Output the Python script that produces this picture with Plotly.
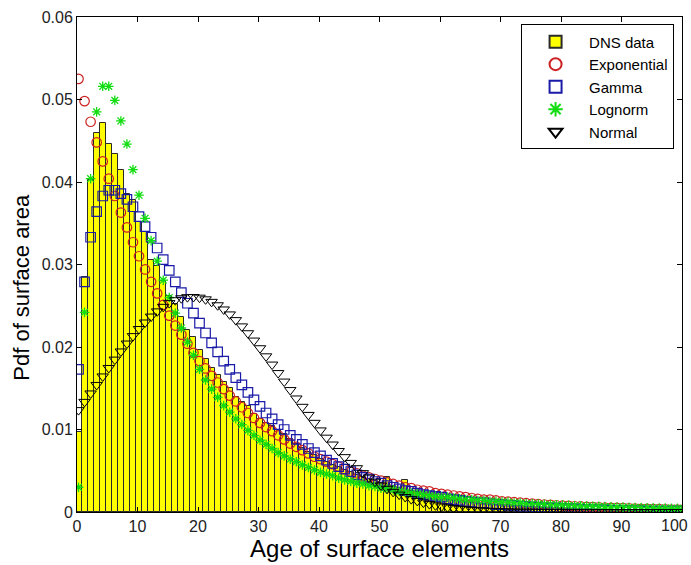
import plotly.graph_objects as go

# Bin centres (age of surface elements)
ages = [k + 0.25 for k in range(101)]

dns_data = [
    0.0097, 0.0285, 0.0402, 0.0460, 0.0471, 0.0446, 0.0434, 0.0415, 0.0386, 0.0378,
    0.0352, 0.0340, 0.0306, 0.0298, 0.0280, 0.0262, 0.0252, 0.0236, 0.0221, 0.0212,
    0.0196, 0.0186, 0.0175, 0.0166, 0.0158, 0.0150, 0.0140, 0.0133, 0.0128, 0.0119,
    0.0113, 0.0108, 0.0104, 0.0100, 0.0095, 0.0089, 0.0083, 0.0078, 0.0073, 0.0069,
    0.0064, 0.0061, 0.0057, 0.0054, 0.0051, 0.0048, 0.0045, 0.0042, 0.0040, 0.0037,
    0.0035, 0.0043, 0.0031, 0.0029, 0.0039, 0.0026, 0.0024, 0.0022, 0.0021, 0.0019,
    0.0018, 0.0016, 0.0015, 0.0014, 0.0013, 0.0012, 0.0011, 0.0010, 0.0010, 0.0009,
    0.0008, 0.0008, 0.0007, 0.0007, 0.0006, 0.0006, 0.00055, 0.0005, 0.0005, 0.00045,
    0.0004, 0.0004, 0.00038, 0.00035, 0.00033, 0.0003, 0.0003, 0.00028, 0.00026, 0.00025,
    0.00024, 0.00022, 0.0002, 0.0002, 0.00019, 0.00018, 0.00017, 0.00016, 0.00015, 0.00015,
    0.00014,
]

exponential = [
    0.0525, 0.0498, 0.0473, 0.0448, 0.0425, 0.0404, 0.0383, 0.0363, 0.0345, 0.0327,
    0.0310, 0.0294, 0.0279, 0.0265, 0.0251, 0.0238, 0.0226, 0.0215, 0.0204, 0.0193,
    0.0183, 0.0174, 0.0165, 0.0157, 0.0149, 0.0141, 0.0134, 0.0127, 0.0120, 0.0114,
    0.0108, 0.0103, 0.0098, 0.0093, 0.0088, 0.0083, 0.0079, 0.0075, 0.0071, 0.0067,
    0.0064, 0.0061, 0.0058, 0.0055, 0.0052, 0.0049, 0.0047, 0.0044, 0.0042, 0.0040,
    0.0038, 0.0036, 0.0034, 0.0032, 0.0030, 0.0029, 0.0027, 0.0026, 0.0025, 0.0023,
    0.0022, 0.0021, 0.0020, 0.0019, 0.0018, 0.0017, 0.0016, 0.0015, 0.0015, 0.0014,
    0.0013, 0.00125, 0.00119, 0.00113, 0.00107, 0.00101, 0.00096, 0.00091, 0.00087, 0.00082,
    0.00078, 0.00074, 0.00070, 0.00067, 0.00063, 0.00060, 0.00057, 0.00054, 0.00051, 0.00049,
    0.00046, 0.00044, 0.00041, 0.00039, 0.00037, 0.00035, 0.00034, 0.00032, 0.00030, 0.00029,
    0.00027,
]

gamma = [
    0.0173, 0.0279, 0.0333, 0.0364, 0.0383, 0.0390, 0.0390, 0.0386, 0.0379, 0.0370,
    0.0358, 0.0346, 0.0333, 0.0320, 0.0306, 0.0293, 0.0279, 0.0266, 0.0253, 0.0241,
    0.0229, 0.0217, 0.0205, 0.0194, 0.0183, 0.0173, 0.0163, 0.0154, 0.0145, 0.0136,
    0.0128, 0.0120, 0.0113, 0.0106, 0.0100, 0.0093, 0.0088, 0.0082, 0.0077, 0.0072,
    0.0068, 0.0063, 0.0059, 0.0055, 0.0052, 0.0049, 0.0045, 0.0042, 0.0040, 0.0037,
    0.0035, 0.0032, 0.0030, 0.0028, 0.0026, 0.0025, 0.0023, 0.0021, 0.0020, 0.0019,
    0.0018, 0.0016, 0.0015, 0.0014, 0.0013, 0.0012, 0.0011, 0.0011, 0.0010, 0.0009,
    0.0009, 0.0008, 0.0008, 0.0007, 0.0007, 0.0006, 0.0006, 0.0005, 0.0005, 0.0005,
    0.0004, 0.0004, 0.0004, 0.0003, 0.0003, 0.0003, 0.0003, 0.0003, 0.0002, 0.0002,
    0.0002, 0.0002, 0.0002, 0.0002, 0.0001, 0.0001, 0.0001, 0.0001, 0.0001, 0.0001,
    0.0001,
]

lognorm = [
    0.0030, 0.0242, 0.0404, 0.0485, 0.0516, 0.0516, 0.0499, 0.0474, 0.0446, 0.0415,
    0.0384, 0.0356, 0.0329, 0.0304, 0.0281, 0.0260, 0.0241, 0.0223, 0.0206, 0.0190,
    0.0173, 0.0160, 0.0149, 0.0139, 0.0129, 0.0121, 0.0113, 0.0106, 0.0099, 0.0093,
    0.0087, 0.0082, 0.0077, 0.0072, 0.0068, 0.0064, 0.0061, 0.0057, 0.0054, 0.0051,
    0.0048, 0.0046, 0.0044, 0.0041, 0.0039, 0.0037, 0.0035, 0.0034, 0.0032, 0.0031,
    0.0029, 0.0028, 0.0027, 0.0025, 0.0024, 0.0023, 0.0022, 0.0021, 0.0020, 0.0019,
    0.0018, 0.0018, 0.0017, 0.0016, 0.0015, 0.0015, 0.0014, 0.0014, 0.0013, 0.0013,
    0.0012, 0.0012, 0.0011, 0.0011, 0.0010, 0.0010, 0.00097, 0.00093, 0.00090, 0.00087,
    0.00084, 0.00081, 0.00078, 0.00075, 0.00072, 0.00070, 0.00068, 0.00065, 0.00063, 0.00061,
    0.00059, 0.00057, 0.00055, 0.00053, 0.00052, 0.00050, 0.00048, 0.00047, 0.00046, 0.00044,
    0.00043,
]

normal = [
    0.01235, 0.01335, 0.01437, 0.0154, 0.01643, 0.01746, 0.01847, 0.01946, 0.02042, 0.02132,
    0.02218, 0.02297, 0.02369, 0.02432, 0.02487, 0.02532, 0.02567, 0.02591, 0.02604, 0.02606,
    0.02598, 0.02578, 0.02547, 0.02506, 0.02455, 0.02395, 0.02326, 0.0225, 0.02167, 0.02078,
    0.01985, 0.01887, 0.01787, 0.01684, 0.01581, 0.01478, 0.01376, 0.01275, 0.01177, 0.01081,
    0.00989, 0.00901, 0.00818, 0.00739, 0.00665, 0.00595, 0.00531, 0.00471, 0.00417, 0.00367,
    0.00322, 0.00281, 0.00244, 0.00211, 0.00182, 0.00156, 0.00134, 0.00114, 0.00096, 0.00081,
    0.00068, 0.00057, 0.00047, 0.00039, 0.00033, 0.00027, 0.00022, 0.00018, 0.00015, 0.00012,
    0.000094, 0.000076, 0.00006, 0.00005, 0.00004, 0.00003, 0.00002, 0.00002, 0.00001, 0.00001,
    0.00001, 0.0, 0.0, 0.0, 0.0, 0.0, 0.0, 0.0, 0.0, 0.0,
    0.0, 0.0, 0.0, 0.0, 0.0, 0.0, 0.0, 0.0, 0.0, 0.0,
    0.0,
]

x_ticks = list(range(0, 101, 10))
x_tick_text = ["0", "10", "20", "30", "40", "50", "60", "70", "80", "90", ""]
last_x_tick = 100
last_x_label = "100"
y_ticks = [0, 0.01, 0.02, 0.03, 0.04, 0.05, 0.06]
y_tick_text = ["0", "0.01", "0.02", "0.03", "0.04", "0.05", "0.06"]

FONT = "Liberation Sans, Arial, sans-serif"

fig = go.Figure()
fig.add_trace(go.Bar(
    x=ages, y=dns_data, width=1, name="DNS data",
    marker=dict(color="#ffff00", line=dict(color="#2a2a2a", width=1)),
))
fig.add_trace(go.Scatter(
    x=ages, y=exponential, mode="markers", name="Exponential",
    marker=dict(symbol="circle-open", size=9.5, color="#cc2222", line=dict(width=1.2)),
))
fig.add_trace(go.Scatter(
    x=ages, y=gamma, mode="markers", name="Gamma",
    marker=dict(symbol="square-open", size=9.5, color="#1a1aa8", line=dict(width=1.2)),
))
fig.add_trace(go.Scatter(
    x=ages, y=lognorm, mode="markers", name="Lognorm",
    marker=dict(symbol="asterisk-open", size=8, color="#11dd11", line=dict(width=1.3)),
))
fig.add_trace(go.Scatter(
    x=ages, y=normal, mode="markers", name="Normal",
    marker=dict(symbol="triangle-down-open", size=10, color="#000000", line=dict(width=1)),
))

axis_common = dict(
    showline=True, linecolor="#000000", linewidth=1, mirror="allticks",
    ticks="inside", ticklen=5, tickcolor="#000000", tickwidth=1,
    showgrid=False, zeroline=False, automargin=False,
    tickfont=dict(family=FONT, size=16, color="#222222"),
)

fig.update_layout(
    width=691, height=565,
    margin=dict(l=77, r=9, t=17, b=53),
    paper_bgcolor="#ffffff", plot_bgcolor="#ffffff",
    bargap=0,
    font=dict(family=FONT, color="#000000"),
    xaxis=dict(
        range=[0, 100.0001], tickvals=x_ticks, ticktext=x_tick_text, **axis_common,
        title=dict(text="Age of surface elements", font=dict(family=FONT, size=24, color="#000000"), standoff=4),
    ),
    yaxis=dict(
        range=[0, 0.06], tickvals=y_ticks, ticktext=y_tick_text, **axis_common,
    ),
    legend=dict(
        x=0.734, y=0.985, xanchor="left", yanchor="top",
        bgcolor="rgba(255,255,255,0)", bordercolor="#000000", borderwidth=1,
        font=dict(family=FONT, size=15, color="#000000"),
        itemsizing="constant", itemwidth=57, tracegroupgap=0,
    ),
    annotations=[
        dict(
            text="Pdf of surface area", textangle=-90,
            xref="paper", yref="paper", x=-0.091, y=0.455,
            xanchor="center", yanchor="middle", showarrow=False,
            font=dict(family=FONT, size=22, color="#000000"),
        ),
        dict(
            text=last_x_label, xref="x", yref="paper", x=last_x_tick, y=-0.0265,
            xanchor="right", yanchor="middle", xshift=7, showarrow=False, borderpad=0,
            font=dict(family=FONT, size=16, color="#222222"),
        ),
    ],
)

fig.write_html("out.html")
